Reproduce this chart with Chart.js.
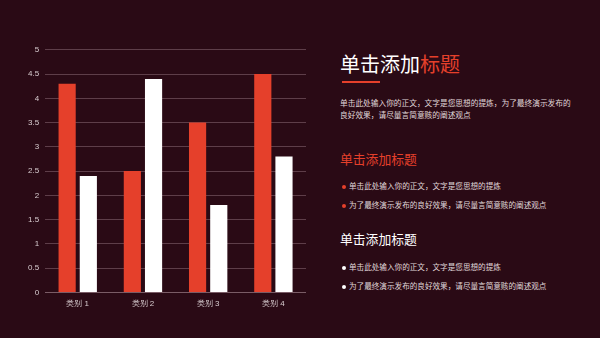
<!DOCTYPE html>
<html>
<head>
<meta charset="utf-8">
<script src="https://cdn.jsdelivr.net/npm/chart.js@4"></script>
<style>
    html, body { margin: 0; padding: 0; }
    body {
        width: 600px; height: 338px; overflow: hidden;
        background: #2a0a15;
        font-family: "Noto Sans CJK SC", "Noto Sans", sans-serif;
        position: relative;
    }
    #chartBox { position: absolute; left: 22px; top: 39px; width: 284px; height: 277px; }
    .panel { position: absolute; left: 340px; top: 0; width: 250px; color: #e8e0e2; }
    .title { position: absolute; top: 49px; font-size: 20px; color: #fff; white-space: nowrap; }
    .title span { color: #e5402b; }
    .line { position: absolute; top: 81px; left: 2px; width: 38px; height: 2px; background: #e5402b; }
    .para { position: absolute; top: 97px; font-size: 7.7px; line-height: 12px; width: 236px; color: #e0d8da; }
    .sub { position: absolute; font-size: 12.8px; white-space: nowrap; }
    .item { position: absolute; left: 2px; font-size: 7.6px; white-space: nowrap; color: #e0d8da; }
    .item::before { content: ''; display: inline-block; width: 4px; height: 4px; border-radius: 50%; margin-right: 3px; vertical-align: middle; background: var(--dot); }
</style>
</head>
<body>
<div id="chartBox"><canvas id="barChart"></canvas></div>

<div class="panel">
    <div class="title">单击添加<span>标题</span></div>
    <div class="line"></div>
    <div class="para">单击此处输入你的正文，文字是您思想的提炼，为了最终演示发布的良好效果，请尽量言简意赅的阐述观点</div>
    <div class="sub" style="top:149px;color:#e5402b;">单击添加标题</div>
    <div class="item" style="top:180px;--dot:#e5402b;">单击此处输入你的正文，文字是您思想的提炼</div>
    <div class="item" style="top:199px;--dot:#e5402b;">为了最终演示发布的良好效果，请尽量言简意赅的阐述观点</div>
    <div class="sub" style="top:229px;color:#fff;">单击添加标题</div>
    <div class="item" style="top:261px;--dot:#fff;">单击此处输入你的正文，文字是您思想的提炼</div>
    <div class="item" style="top:280px;--dot:#fff;">为了最终演示发布的良好效果，请尽量言简意赅的阐述观点</div>
</div>

<script>
    // 图表数据
    const categories = ['类别 1', '类别 2', '类别 3', '类别 4'];
    const series1 = [4.3, 2.5, 3.5, 4.5];
    const series2 = [2.4, 4.4, 1.8, 2.8];
    const yTicks = [0, 0.5, 1, 1.5, 2, 2.5, 3, 3.5, 4, 4.5, 5];

    new Chart(document.getElementById('barChart'), {
        type: 'bar',
        data: {
            labels: categories,
            datasets: [
                { label: '系列 1', data: series1, backgroundColor: '#e5402b', categoryPercentage: 0.65, barPercentage: 0.81 },
                { label: '系列 2', data: series2, backgroundColor: '#ffffff', categoryPercentage: 0.65, barPercentage: 0.81 }
            ]
        },
        options: {
            responsive: true,
            maintainAspectRatio: false,
            animation: false,
            plugins: { legend: { display: false }, tooltip: { enabled: false } },
            scales: {
                x: {
                    grid: { display: false, drawTicks: false },
                    border: { color: '#7a5c66', width: 1 },
                    ticks: { color: '#d8cdd0', font: { size: 8 }, padding: 7 }
                },
                y: {
                    min: 0, max: 5,
                    afterBuildTicks: axis => { axis.ticks = yTicks.map(v => ({ value: v })); },
                    grid: { color: '#5e3e49', lineWidth: 1, drawTicks: false },
                    border: { display: false },
                    ticks: { color: '#d8cdd0', font: { size: 8 }, padding: 6, callback: v => String(v) }
                }
            }
        }
    });
</script>
</body>
</html>
